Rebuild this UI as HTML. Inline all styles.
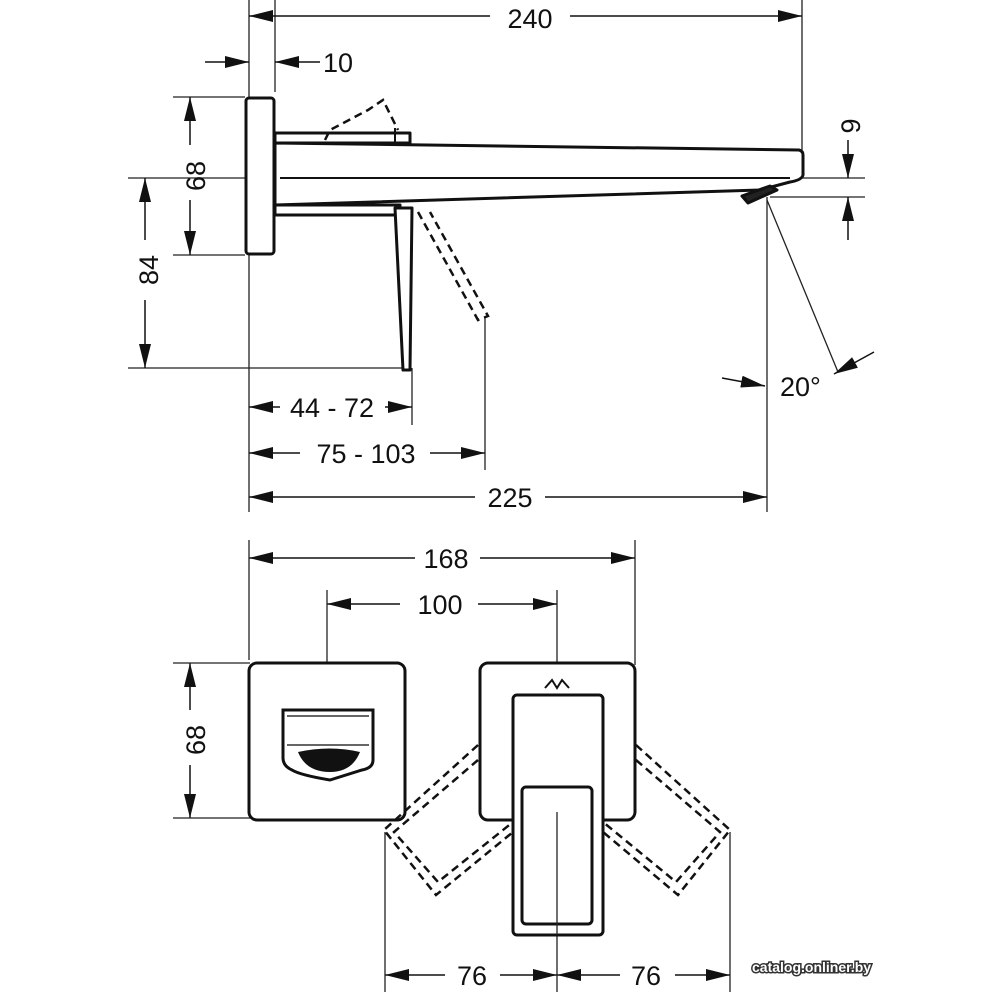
<!DOCTYPE html>
<html><head><meta charset="utf-8"><style>
html,body{margin:0;padding:0;background:#fff;}
svg{display:block;}
text{font-family:"Liberation Sans",sans-serif;font-size:27px;fill:#111;}
</style></head><body>
<svg width="1000" height="1000" viewBox="0 0 1000 1000" xmlns="http://www.w3.org/2000/svg">
<defs>
<marker id="a" viewBox="0 0 24 12" refX="24" refY="6" markerWidth="24" markerHeight="12" markerUnits="userSpaceOnUse" orient="auto-start-reverse">
<path d="M0,0 L24,6 L0,12 z" fill="#111"/></marker>
</defs>
<g stroke="#222" stroke-width="1.3" fill="none">
<line x1="249" y1="0" x2="249" y2="512"/>
<line x1="275" y1="0" x2="275" y2="92"/>
<line x1="802" y1="0" x2="802" y2="150"/>
<line x1="173" y1="97" x2="245" y2="97"/>
<line x1="173" y1="255" x2="245" y2="255"/>
<line x1="128" y1="178" x2="865" y2="178"/>
<line x1="128" y1="368" x2="410" y2="368"/>
<line x1="770" y1="197" x2="865" y2="197"/>
<line x1="767" y1="197" x2="767" y2="512"/>
<line x1="412" y1="368" x2="412" y2="425"/>
<line x1="485" y1="318" x2="485" y2="470"/>
<line x1="767" y1="200" x2="838" y2="372"/>
</g>
<g stroke="#111" stroke-width="1.5" fill="none">
<line x1="249" y1="16" x2="490" y2="16" marker-start="url(#a)"/>
<line x1="570" y1="16" x2="802" y2="16" marker-end="url(#a)"/>
<line x1="205" y1="62" x2="249" y2="62" marker-end="url(#a)"/>
<line x1="320" y1="62" x2="275" y2="62" marker-end="url(#a)"/>
<line x1="190" y1="97" x2="190" y2="145" marker-start="url(#a)"/>
<line x1="190" y1="200" x2="190" y2="255" marker-end="url(#a)"/>
<line x1="145" y1="178" x2="145" y2="240" marker-start="url(#a)"/>
<line x1="145" y1="300" x2="145" y2="368" marker-end="url(#a)"/>
<line x1="848" y1="140" x2="848" y2="178" marker-end="url(#a)"/>
<line x1="848" y1="240" x2="848" y2="197" marker-end="url(#a)"/>
<line x1="722" y1="378" x2="765" y2="386" marker-end="url(#a)"/>
<line x1="874" y1="352" x2="834" y2="374" marker-end="url(#a)"/>
<line x1="249" y1="407" x2="280" y2="407" marker-start="url(#a)"/>
<line x1="385" y1="407" x2="412" y2="407" marker-end="url(#a)"/>
<line x1="249" y1="453" x2="300" y2="453" marker-start="url(#a)"/>
<line x1="430" y1="453" x2="485" y2="453" marker-end="url(#a)"/>
<line x1="249" y1="497" x2="475" y2="497" marker-start="url(#a)"/>
<line x1="545" y1="497" x2="767" y2="497" marker-end="url(#a)"/>
<line x1="249" y1="558" x2="415" y2="558" marker-start="url(#a)"/>
<line x1="480" y1="558" x2="635" y2="558" marker-end="url(#a)"/>
<line x1="327" y1="604" x2="400" y2="604" marker-start="url(#a)"/>
<line x1="478" y1="604" x2="557" y2="604" marker-end="url(#a)"/>
<line x1="190" y1="663" x2="190" y2="710" marker-start="url(#a)"/>
<line x1="190" y1="765" x2="190" y2="818" marker-end="url(#a)"/>
<line x1="385" y1="975" x2="445" y2="975" marker-start="url(#a)"/>
<line x1="500" y1="975" x2="557" y2="975" marker-end="url(#a)"/>
<line x1="557" y1="975" x2="620" y2="975" marker-start="url(#a)"/>
<line x1="675" y1="975" x2="730" y2="975" marker-end="url(#a)"/>
</g>
<g stroke="#222" stroke-width="1.3" fill="none">
<line x1="249" y1="540" x2="249" y2="660"/>
<line x1="635" y1="540" x2="635" y2="665"/>
<line x1="327" y1="590" x2="327" y2="706"/>
<line x1="557" y1="590" x2="557" y2="690"/>
<line x1="173" y1="663" x2="250" y2="663"/>
<line x1="173" y1="818" x2="250" y2="818"/>
<line x1="385" y1="832" x2="385" y2="992"/>
<line x1="730" y1="832" x2="730" y2="992"/>
<line x1="557" y1="812" x2="557" y2="992"/>
</g>
<g stroke="#111" stroke-width="3" fill="#fff" stroke-linejoin="round">
<rect x="246" y="98" width="28" height="156" rx="3"/>
<path d="M275,133 L410,133 L410,143 L275,143 z"/>
<path d="M275,205 L400,205 L400,215 L275,215 z"/>
<path d="M275,143 L799,150 Q803,151 803,155 L803,175 Q802,180 790,182 L760,190 L275,205 z"/>
<line x1="395" y1="128" x2="395" y2="143" stroke-width="2"/>
<path d="M395,208 L412,208 L410,370 L403,370 z"/>
<path d="M742,196 L770,186 L777,190 L748,203 z" fill="#222"/>
</g>
<line x1="280" y1="178" x2="790" y2="178" stroke="#111" stroke-width="2"/>
<g stroke="#111" stroke-width="2.5" fill="none" stroke-dasharray="8,5">
<path d="M325,140 L330,130 L368,110 L383,100 L398,130"/>
<path d="M418,212 L478,320 L488,316 L430,212"/>
</g>
<g stroke="#111" stroke-width="3" fill="#fff">
<rect x="249" y="663" width="156" height="157" rx="8"/>
<rect x="480" y="663" width="155" height="157" rx="8"/>
</g>
<g stroke="#111" stroke-width="2.5" fill="none" stroke-dasharray="8,5">
<path d="M478,745 L384,830 L436,895 L513,832"/>
<path d="M478,760 L394,832 L438,882 L513,822"/>
<path d="M636,745 L730,830 L678,895 L603,832"/>
<path d="M636,760 L720,832 L676,882 L603,822"/>
</g>
<path d="M545,688 L552,680 L557,688 L562,680 L569,688" stroke="#111" stroke-width="2" fill="none"/>
<g stroke="#111" stroke-width="3" fill="#fff">
<rect x="513" y="695" width="90" height="240" rx="4"/>
<rect x="522" y="787" width="70" height="137" rx="4"/>
<path d="M283,710 L373,710 L373,760 Q373,768 362,770 Q330,780 330,780 Q300,775 292,770 Q283,766 283,758 z"/>
</g>
<line x1="287" y1="716" x2="369" y2="716" stroke="#333" stroke-width="1.5"/>
<line x1="287" y1="745" x2="369" y2="745" stroke="#333" stroke-width="1.5"/>
<path d="M298,752 Q330,745 360,752 Q352,772 330,772 Q306,772 298,752 z" fill="#111"/>
<line x1="557" y1="812" x2="557" y2="935" stroke="#222" stroke-width="1.3"/>
<text x="530" y="28" text-anchor="middle">240</text>
<text x="323" y="72">10</text>
<text x="205" y="176" text-anchor="middle" transform="rotate(-90 205 176)">68</text>
<text x="158" y="270" text-anchor="middle" transform="rotate(-90 158 270)">84</text>
<text x="860" y="126" text-anchor="middle" transform="rotate(-90 860 126)">9</text>
<text x="780" y="396">20°</text>
<text x="332" y="417" text-anchor="middle">44 - 72</text>
<text x="366" y="463" text-anchor="middle">75 - 103</text>
<text x="510" y="507" text-anchor="middle">225</text>
<text x="446" y="568" text-anchor="middle">168</text>
<text x="440" y="614" text-anchor="middle">100</text>
<text x="205" y="740" text-anchor="middle" transform="rotate(-90 205 740)">68</text>
<text x="472" y="985" text-anchor="middle">76</text>
<text x="646" y="985" text-anchor="middle">76</text>
<text x="752" y="972" style="font-size:14px;fill:#fff;stroke:#333;stroke-width:3;paint-order:stroke;font-weight:bold">catalog.onliner.by</text>
</svg>
</body></html>
